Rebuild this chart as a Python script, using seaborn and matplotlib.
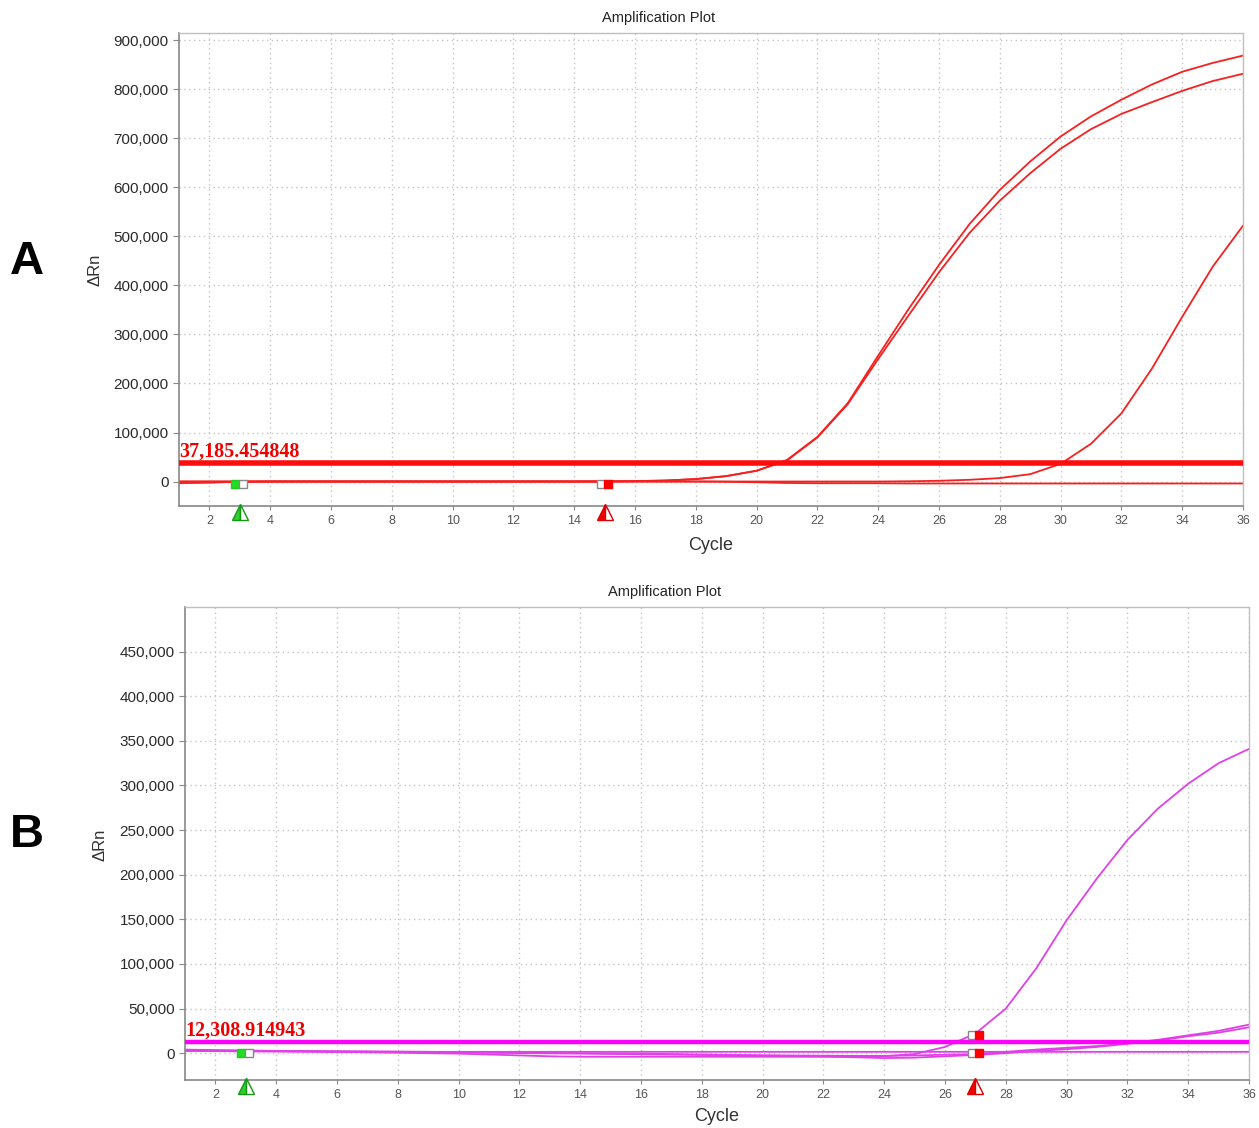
import pandas as pd
import seaborn as sns
import matplotlib.pyplot as plt
from matplotlib.ticker import StrMethodFormatter
import matplotlib.transforms as mtransforms

cycles = list(range(1, 37))

# panel A - red wells
a_well1 = [-3000, -2000, -500, 0, 0, 0, 0, 0, 0, 0, 0, 0, 0, 0, 200, 800, 2000, 5000, 11000, 22000,
           44000, 91000, 160000, 257000, 352000, 442000, 525000, 595000, 653000, 704000,
           745000, 779000, 810000, 836000, 854000, 869000]
a_well2 = [-3000, -2000, -500, 0, 0, 0, 0, 0, 0, 0, 0, 0, 0, 0, 200, 800, 2000, 5000, 11000, 22000,
           43000, 90000, 158000, 250000, 339000, 427000, 507000, 573000, 629000, 679000,
           719000, 750000, 774000, 797000, 817000, 832000]
a_well3 = [0, 0, 0, 0, 0, 0, 0, 0, 0, 0, 0, 0, 0, 0, 0, 0, 0, 0, 0, 0,
           0, 0, 0, 0, 500, 1500, 3500, 7000, 15000, 36000,
           77000, 139000, 230000, 336000, 438000, 522000]
a_well4 = [0, 0, 0, 0, 0, 0, 0, 0, 0, 0, 0, 0, 0, 0, 0, 0, 0, 0, -500, -1500,
           -3000, -3500, -3500, -3500, -4000, -4000, -4000, -4000, -4000, -4000,
           -4000, -4000, -4000, -4000, -4000, -4000]
a_threshold = 37185.454848

# panel B - magenta wells
b_well1 = [4000, 3500, 3000, 2500, 2000, 1500, 1000, 500, 0, -500, -1500, -2500, -3500, -4000,
           -4000, -4000, -4000, -4000, -4000, -4000, -4000, -4000, -4000, -3500, -1000, 7000,
           22000, 50000, 95000, 149000, 196000, 239000, 274000, 302000, 325000, 341000]
b_well2 = [3000, 2800, 2600, 2500, 2300, 2200, 2000, 1800, 1500, 1200, 900, 600, 300, 0, -300,
           -600, -1000, -1500, -2000, -2300, -2600, -2800, -3000, -3000, -2500, -1800, -1000,
           1500, 4000, 6000, 8000, 11000, 15000, 20000, 25000, 32000]
b_well3 = [2500, 2300, 2100, 2000, 1800, 1600, 1500, 1300, 1000, 700, 400, 100, -200, -500, -800,
           -1200, -1600, -2000, -2400, -2800, -3200, -3600, -4500, -5500, -5000, -3500, -2000,
           0, 2500, 4500, 7000, 10500, 14000, 19000, 23000, 29000]
b_well4 = [3000, 2500, 2200, 2000, 1800, 1700, 1600, 1500, 1500, 1500, 1500, 1500, 1500, 1500,
           1500, 1500, 1500, 1500, 1500, 1500, 1500, 1500, 1500, 1500, 1500, 1500, 1500, 1500,
           1500, 1500, 1500, 1500, 1500, 1500, 1500, 1500]
b_threshold = 12308.914943

x_ticks = list(range(2, 37, 2))
a_yticks = list(range(0, 900001, 100000))
b_yticks = list(range(0, 450001, 50000))

red = '#f52020'
magenta_curve = '#e040e8'
magenta_thr = '#ff00ff'


def long_form(wells):
    rows = []
    for name, vals in wells.items():
        for c, v in zip(cycles, vals):
            rows.append({"Cycle": c, "dRn": v, "well": name})
    return pd.DataFrame(rows)


sns.set_style("white")
plt.rcParams['font.family'] = ['Liberation Sans', 'DejaVu Sans']

fig = plt.figure(figsize=(12.59, 11.28), dpi=100)
ax_a = fig.add_axes([0.1422, 0.5514, 0.8451, 0.4193])
ax_b = fig.add_axes([0.1469, 0.0426, 0.8452, 0.4193])

df_a = long_form({"w1": a_well1, "w2": a_well2, "w3": a_well3, "w4": a_well4})
df_b = long_form({"w1": b_well1, "w2": b_well2, "w3": b_well3, "w4": b_well4})

sns.lineplot(data=df_a, x="Cycle", y="dRn", hue="well", palette=[red] * 4,
             estimator=None, legend=False, linewidth=1.3, ax=ax_a)
sns.lineplot(data=df_b, x="Cycle", y="dRn", hue="well", palette=[magenta_curve] * 4,
             estimator=None, legend=False, linewidth=1.3, ax=ax_b)

ax_a.axhline(a_threshold, color='#ff0d0d', linewidth=4, zorder=3)
ax_b.axhline(b_threshold, color=magenta_thr, linewidth=3.2, zorder=3)

ax_a.text(1.0, a_threshold + 2500, "37,185.454848", color='#ee0000', fontsize=14.5,
          fontweight='bold', family='Liberation Serif', va='bottom', ha='left', zorder=4)
ax_b.text(1.0, b_threshold + 1800, "12,308.914943", color='#ee0000', fontsize=14.5,
          fontweight='bold', family='Liberation Serif', va='bottom', ha='left', zorder=4)

for ax, yticks, ylim in [(ax_a, a_yticks, (-50000, 915000)), (ax_b, b_yticks, (-30000, 500000))]:
    ax.set_xlim(1, 36)
    ax.set_ylim(*ylim)
    ax.set_xticks(x_ticks)
    ax.set_yticks(yticks)
    ax.yaxis.set_major_formatter(StrMethodFormatter('{x:,.0f}'))
    ax.grid(True, color='#c4c4c4', linestyle=(0, (1, 2.5)), linewidth=1.0)
    ax.set_axisbelow(True)
    ax.set_xlabel("")
    ax.set_ylabel("")
    ax.tick_params(axis='y', labelsize=11, labelcolor='#2a2a2a', length=4, color='#888888', left=True)
    ax.tick_params(axis='x', labelsize=9, labelcolor='#555555', length=3, color='#888888', bottom=True)
    for side in ['left', 'bottom']:
        ax.spines[side].set_color('#888888')
        ax.spines[side].set_linewidth(1.2)
    for side in ['top', 'right']:
        ax.spines[side].set_color('#c0c0c0')
        ax.spines[side].set_linewidth(1.0)

# start / end baseline markers
def cycle_markers(ax, x_green, y_green, x_red, y_reds):
    ax.plot([x_green - 0.15], [y_green], marker='s', color='#22dd22', markersize=6,
            markeredgecolor='#22cc22', linestyle='none', zorder=5)
    ax.plot([x_green + 0.12], [y_green], marker='s', color='white', markersize=6,
            markeredgecolor='#888888', linestyle='none', zorder=5)
    for y in y_reds:
        ax.plot([x_red - 0.12], [y], marker='s', color='white', markersize=6,
                markeredgecolor='#888888', linestyle='none', zorder=5)
        ax.plot([x_red + 0.12], [y], marker='s', color='#ff0000', markersize=6,
                markeredgecolor='#ff0000', linestyle='none', zorder=5)
    trans = mtransforms.blended_transform_factory(ax.transData, ax.transAxes)
    ax.plot([x_green], [-0.012], marker='^', markersize=11, transform=trans, clip_on=False,
            markerfacecolor='#33cc33', markerfacecoloralt='white', fillstyle='left',
            markeredgecolor='#119911', linestyle='none', zorder=6)
    ax.plot([x_red], [-0.012], marker='^', markersize=11, transform=trans, clip_on=False,
            markerfacecolor='#ee0000', markerfacecoloralt='white', fillstyle='left',
            markeredgecolor='#dd0000', linestyle='none', zorder=6)


cycle_markers(ax_a, 3.0, -5000, 15.0, [-5000])
cycle_markers(ax_b, 3.0, 0, 27.0, [20000, 0])

fig.text(0.5234, 0.984, "Amplification Plot", fontsize=10.5, ha='center', va='center', color='#222222')
fig.text(0.528, 0.475, "Amplification Plot", fontsize=10.5, ha='center', va='center', color='#222222')
fig.text(0.5647, 0.5168, "Cycle", fontsize=13, ha='center', va='center', color='#333333')
fig.text(0.5695, 0.0098, "Cycle", fontsize=13, ha='center', va='center', color='#333333')
fig.text(0.0755, 0.7606, "ΔRn", fontsize=12, rotation=90, ha='center', va='center', color='#333333')
fig.text(0.0794, 0.2509, "ΔRn", fontsize=12, rotation=90, ha='center', va='center', color='#333333')
fig.text(0.0214, 0.7677, "A", fontsize=34, fontweight='bold', ha='center', va='center', color='black')
fig.text(0.0214, 0.2598, "B", fontsize=34, fontweight='bold', ha='center', va='center', color='black')

fig.savefig("out.png", dpi=100)
